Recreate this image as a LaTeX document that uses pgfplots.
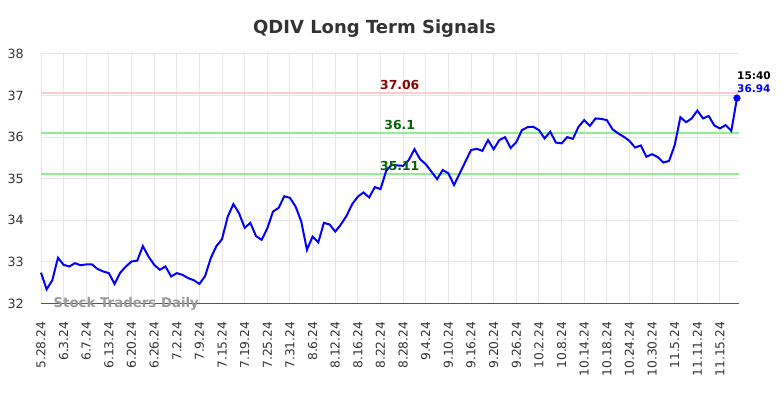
\documentclass[border=0pt]{standalone}
\usepackage{fontspec}
\setmainfont{DejaVu Sans}
\usepackage{pgfplots}
\pgfplotsset{compat=1.18}
\usepackage{pgfplotstable}
\definecolor{ctitle}{HTML}{333333}
\definecolor{ctick}{HTML}{333333}
\definecolor{cgrid}{HTML}{E6E6E6}
\definecolor{caxis}{HTML}{555555}
\definecolor{cpink}{HTML}{FFCCCC}
\definecolor{cgreen}{HTML}{90EE90}
\definecolor{cdred}{HTML}{8B0000}
\definecolor{cdgreen}{HTML}{006400}
\definecolor{cwm}{HTML}{999999}

\pgfplotstableread{
i v
0 32.74
1 32.34
2 32.56
3 33.10
4 32.93
5 32.89
6 32.97
7 32.92
8 32.94
9 32.94
10 32.83
11 32.77
12 32.73
13 32.47
14 32.74
15 32.89
16 33.01
17 33.03
18 33.38
19 33.13
20 32.93
21 32.81
22 32.89
23 32.65
24 32.73
25 32.69
26 32.61
27 32.56
28 32.47
29 32.66
30 33.09
31 33.38
32 33.55
33 34.09
34 34.39
35 34.17
36 33.82
37 33.94
38 33.62
39 33.53
40 33.81
41 34.21
42 34.30
43 34.58
44 34.54
45 34.33
46 33.97
47 33.29
48 33.61
49 33.47
50 33.94
51 33.90
52 33.73
53 33.90
54 34.11
55 34.39
56 34.57
57 34.67
58 34.55
59 34.80
60 34.75
61 35.19
62 35.34
63 35.32
64 35.31
65 35.45
66 35.71
67 35.47
68 35.35
69 35.17
70 34.99
71 35.21
72 35.13
73 34.85
74 35.13
75 35.41
76 35.69
77 35.72
78 35.67
79 35.93
80 35.71
81 35.93
82 36.00
83 35.74
84 35.88
85 36.17
86 36.24
87 36.25
88 36.17
89 35.97
90 36.13
91 35.87
92 35.85
93 36.00
94 35.96
95 36.25
96 36.41
97 36.27
98 36.45
99 36.44
100 36.41
101 36.19
102 36.09
103 36.01
104 35.91
105 35.75
106 35.80
107 35.53
108 35.59
109 35.52
110 35.39
111 35.43
112 35.81
113 36.48
114 36.36
115 36.45
116 36.64
117 36.45
118 36.51
119 36.28
120 36.21
121 36.29
122 36.15
123 36.94
}\pricedata

\begin{document}
\begin{tikzpicture}
\path (0,0) rectangle (588pt,298.5pt);
\begin{axis}[
  at={(30.75pt,70.875pt)}, anchor=south west,
  scale only axis, width=523.5pt, height=187.125pt,
  xmin=0, xmax=123.36, ymin=32, ymax=38,
  axis x line*=bottom, axis y line*=left,
  x axis line style={caxis, line width=0.75pt},
  y axis line style={draw=none},
  major tick length=0pt,
  xtick={0,4,...,120},
  xticklabels={5.28.24,6.3.24,6.7.24,6.13.24,6.20.24,6.26.24,7.2.24,7.9.24,7.15.24,7.19.24,7.25.24,7.31.24,8.6.24,8.12.24,8.16.24,8.22.24,8.28.24,9.4.24,9.10.24,9.16.24,9.20.24,9.26.24,10.2.24,10.8.24,10.14.24,10.18.24,10.24.24,10.30.24,11.5.24,11.11.24,11.15.24},
  ytick={32,33,...,38},
  grid=major,
  major grid style={cgrid, line width=0.75pt},
  /pgf/number format/assume math mode=true,
  xticklabel style={font=\fontsize{9.2}{10}\selectfont, text=ctick, yshift=-13.5pt, rotate=90, anchor=east, inner sep=0pt},
  yticklabel style={font=\fontsize{9.5}{10}\selectfont, text=ctick, inner sep=0pt, xshift=-12.75pt},
  clip=false,
]
\addplot[cpink, line width=1.5pt, forget plot] coordinates {(0,37.06) (123.36,37.06)};
\addplot[cgreen, line width=1.5pt, forget plot] coordinates {(0,36.1) (123.36,36.1)};
\addplot[cgreen, line width=1.5pt, forget plot] coordinates {(0,35.11) (123.36,35.11)};
\addplot[blue, line width=1.5pt, no markers] table[x=i, y=v] {\pricedata};
\addplot[blue, only marks, mark=*, mark size=2.5pt] coordinates {(123,36.94)};
\node[anchor=base, text=cdred, font=\bfseries\fontsize{9.3}{10}\selectfont, inner sep=0pt, yshift=2.8pt] at (axis cs:63.4,37.06) {37.06};
\node[anchor=base, text=cdgreen, font=\bfseries\fontsize{9.3}{10}\selectfont, inner sep=0pt, yshift=2.8pt] at (axis cs:63.4,36.1) {36.1};
\node[anchor=base, text=cdgreen, font=\bfseries\fontsize{9.3}{10}\selectfont, inner sep=0pt, yshift=2.8pt] at (axis cs:63.4,35.11) {35.11};
\node[anchor=base west, text=black, font=\bfseries\fontsize{7.9}{9}\selectfont, inner sep=0pt, yshift=14.25pt] at (axis cs:123,36.94) {15:40};
\node[anchor=base west, text=blue, font=\bfseries\fontsize{7.9}{9}\selectfont, inner sep=0pt, yshift=4.2pt] at (axis cs:123,36.94) {36.94};
\node[anchor=base west, text=cwm, font=\bfseries\fontsize{10}{11}\selectfont, inner sep=0pt] at (axis cs:2.17,31.91) {Stock Traders Daily};
\end{axis}
\node[text=ctitle, font=\bfseries\fontsize{13.5}{15}\selectfont, inner sep=0pt, anchor=base] at (280.9pt,273.25pt) {QDIV Long Term Signals};
\end{tikzpicture}
\end{document}
